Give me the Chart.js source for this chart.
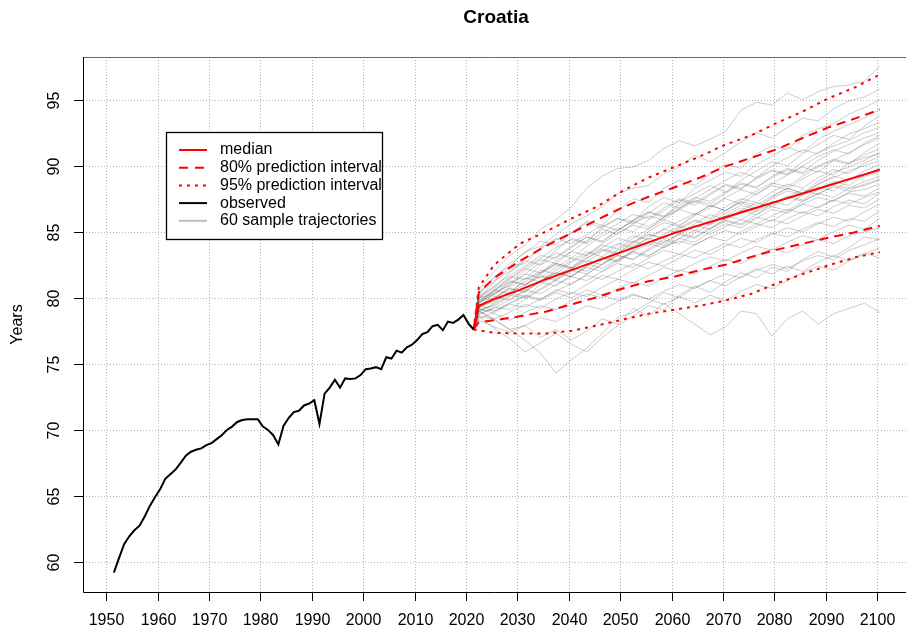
<!DOCTYPE html>
<html>
<head>
<meta charset="utf-8">
<script src="https://cdn.jsdelivr.net/npm/chart.js@4.4.1/dist/chart.umd.min.js"></script>
<style>
  html, body { margin: 0; padding: 0; background: #fff; }
  canvas { display: block; }
</style>
</head>
<body>
<canvas id="chart" width="906" height="628"></canvas>
<script>
/* ── Data ── */
const xTicks = [1950, 1960, 1970, 1980, 1990, 2000, 2010, 2020, 2030, 2040, 2050, 2060, 2070, 2080, 2090, 2100];
const yTicks = [60, 65, 70, 75, 80, 85, 90, 95];

// observed life expectancy, 1951.5 .. 2021.5
const observed = [
  59.2, 60.3, 61.35, 61.95, 62.4, 62.75, 63.45, 64.25, 64.9, 65.5,
  66.3, 66.65, 67.0, 67.5, 68.05, 68.35, 68.5, 68.6, 68.85, 69.0,
  69.3, 69.6, 70.0, 70.25, 70.6, 70.75, 70.8, 70.8, 70.8, 70.25,
  70.0, 69.6, 68.9, 70.3, 70.9, 71.35, 71.45, 71.85, 72.0, 72.25,
  70.45, 72.75, 73.2, 73.8, 73.2, 73.9, 73.85, 73.9, 74.15, 74.6,
  74.65, 74.75, 74.6, 75.5, 75.4, 76.0, 75.85, 76.25, 76.45, 76.8,
  77.25, 77.4, 77.85, 77.95, 77.55, 78.2, 78.1, 78.35, 78.7, 78.05,
  77.6
];
const obsYears = observed.map((_, i) => 1951.5 + i);

const projYears = [2021.5, 2022.5, 2025.5, 2030.5, 2035.5, 2040.5, 2045.5, 2050.5, 2055.5,
                   2060.5, 2065.5, 2070.5, 2075.5, 2080.5, 2085.5, 2090.5, 2095.5, 2100.5];
const median  = [77.6, 79.4, 79.9, 80.6, 81.4, 82.1, 82.8, 83.5, 84.2, 84.9, 85.5, 86.1, 86.7, 87.3, 87.9, 88.5, 89.1, 89.7];
const upper80 = [77.6, 80.4, 81.5, 82.8, 83.9, 84.9, 85.9, 86.85, 87.65, 88.35, 89.1, 89.95, 90.6, 91.25, 92.1, 92.9, 93.55, 94.25];
const lower80 = [77.6, 78.15, 78.3, 78.6, 78.95, 79.5, 80.05, 80.7, 81.25, 81.6, 82.1, 82.5, 83.1, 83.65, 84.1, 84.55, 84.95, 85.45];
const upper95 = [77.6, 80.8, 82.5, 84.1, 85.0, 86.0, 86.9, 88.1, 89.1, 89.9, 90.7, 91.6, 92.3, 93.25, 94.1, 95.1, 95.9, 96.9];
const lower95 = [77.6, 77.55, 77.35, 77.3, 77.3, 77.5, 77.9, 78.35, 78.8, 79.1, 79.4, 79.8, 80.3, 81.1, 81.8, 82.45, 83.05, 83.45];

// sample trajectories (read from the grey cloud), 2022.5 .. 2100.5 every 3 years
const trajYears = [2022.5, 2025.5, 2028.5, 2031.5, 2034.5, 2037.5, 2040.5, 2043.5, 2046.5, 2049.5,
                   2052.5, 2055.5, 2058.5, 2061.5, 2064.5, 2067.5, 2070.5, 2073.5, 2076.5, 2079.5,
                   2082.5, 2085.5, 2088.5, 2091.5, 2094.5, 2097.5, 2100.5];
const trajectories = [
  [80.6, 82.0, 83.2, 84.0, 85.2, 85.9, 86.9, 88.3, 89.2, 89.8, 89.9, 90.4, 91.3, 91.9, 91.5, 92.0, 92.6, 94.2, 94.8, 94.6, 95.5, 95.0, 95.6, 96.0, 96.1, 96.4, 97.5],
  [79.0, 78.3, 77.6, 77.9, 77.0, 77.6, 76.8, 77.5, 78.4, 78.0, 79.2, 78.6, 79.6, 78.8, 78.0, 77.2, 77.8, 79.0, 78.8, 77.1, 78.4, 79.0, 78.0, 78.8, 79.2, 79.6, 78.9],
  [79.0, 78.4, 77.6, 76.8, 75.8, 74.3, 75.3, 76.2, 77.3, 78.5, 78.9, 79.6, 80.4, 80.0, 80.8, 81.3, 80.9, 81.6, 82.2, 81.8, 82.4, 82.0, 82.7, 83.2, 82.8, 83.4, 83.0],
  [78.6, 77.7, 76.9, 75.9, 76.6, 77.3, 76.5, 75.9, 77.0, 77.9, 78.6, 79.4, 79.1, 80.2, 80.9, 80.4, 81.2, 81.9, 81.5, 82.3, 82.0, 82.9, 83.5, 83.1, 83.8, 84.6, 84.4],
  [80.3, 81.6, 82.4, 83.5, 83.9, 84.8, 85.6, 86.2, 86.9, 87.9, 88.3, 88.5, 89.4, 89.9, 90.8, 90.3, 91.0, 91.8, 92.5, 92.1, 92.9, 93.6, 93.4, 94.3, 94.9, 95.2, 95.8],
  [79.9, 81.2, 82.3, 82.6, 83.8, 84.4, 84.9, 85.8, 85.5, 86.6, 87.5, 87.2, 88.3, 88.9, 88.5, 89.4, 90.1, 89.8, 90.9, 91.5, 91.2, 92.3, 92.8, 93.2, 93.9, 94.4, 95.0],
  [80.1, 80.8, 81.9, 82.8, 82.5, 83.6, 84.5, 84.2, 85.4, 86.0, 85.8, 86.9, 87.6, 87.2, 88.3, 88.9, 89.5, 89.2, 90.1, 90.7, 91.4, 91.0, 92.0, 92.6, 93.1, 93.6, 94.3],
  [79.6, 80.5, 81.6, 81.4, 82.5, 83.1, 83.9, 84.6, 84.2, 85.1, 85.9, 86.5, 86.1, 87.2, 87.9, 88.5, 88.0, 88.9, 89.6, 90.3, 90.0, 90.9, 91.6, 92.3, 92.0, 93.0, 93.8],
  [80.0, 80.3, 81.0, 82.1, 82.9, 82.6, 83.5, 84.3, 85.2, 84.8, 85.6, 86.4, 87.2, 86.8, 87.5, 88.2, 88.9, 89.5, 89.1, 90.0, 90.6, 91.2, 90.9, 91.7, 92.4, 92.8, 93.3],
  [79.2, 80.4, 80.9, 81.8, 82.7, 83.4, 83.0, 83.9, 84.7, 85.3, 85.0, 85.9, 86.6, 87.4, 87.0, 87.8, 88.5, 88.2, 89.1, 89.7, 89.4, 90.3, 91.0, 91.5, 91.9, 92.5, 92.9],
  [79.8, 80.2, 81.3, 81.0, 81.9, 82.8, 83.5, 83.2, 84.1, 84.9, 85.5, 85.2, 86.1, 86.8, 87.4, 87.1, 87.9, 88.6, 88.3, 89.2, 89.8, 89.5, 90.4, 91.1, 91.6, 92.1, 92.5],
  [80.4, 81.5, 82.6, 83.4, 84.3, 84.0, 84.9, 85.7, 85.3, 86.0, 85.6, 86.2, 85.9, 86.7, 87.3, 86.9, 87.6, 88.2, 87.8, 88.6, 89.3, 89.9, 89.5, 90.4, 91.0, 91.6, 92.1],
  [79.3, 79.7, 80.5, 81.2, 82.1, 81.8, 82.7, 83.3, 84.0, 83.7, 84.5, 85.2, 85.9, 85.5, 86.3, 87.0, 86.6, 87.4, 88.1, 88.7, 88.4, 89.2, 89.9, 90.4, 90.1, 91.0, 91.7],
  [79.5, 80.6, 80.3, 81.4, 81.9, 82.6, 82.3, 83.2, 83.8, 84.5, 84.2, 85.0, 85.7, 85.4, 86.2, 86.8, 87.5, 87.1, 87.9, 88.5, 88.2, 89.0, 89.6, 89.3, 90.2, 90.8, 91.3],
  [78.9, 79.6, 80.4, 80.1, 81.0, 81.7, 82.3, 82.0, 82.9, 83.6, 84.3, 83.9, 84.8, 85.4, 85.1, 85.9, 86.6, 87.2, 86.8, 87.6, 88.3, 87.9, 88.8, 89.5, 89.9, 90.4, 91.0],
  [79.7, 80.0, 80.8, 81.5, 81.2, 82.1, 82.8, 83.5, 83.1, 84.0, 84.7, 84.4, 85.2, 85.8, 86.4, 86.0, 86.9, 87.5, 87.2, 88.0, 88.6, 88.3, 89.1, 89.7, 89.4, 90.2, 90.7],
  [79.1, 79.4, 80.1, 80.9, 81.7, 81.4, 82.2, 82.8, 82.5, 83.4, 84.1, 84.8, 84.5, 85.3, 85.9, 85.6, 86.4, 87.0, 86.7, 87.5, 88.1, 87.8, 88.6, 89.1, 89.6, 90.0, 90.4],
  [80.2, 81.3, 82.0, 82.9, 83.7, 84.5, 84.1, 84.8, 85.5, 85.1, 85.8, 85.4, 86.1, 86.7, 86.3, 87.0, 86.6, 87.3, 87.0, 87.7, 88.3, 87.9, 88.6, 89.2, 88.9, 89.6, 90.1],
  [79.4, 79.9, 80.7, 80.4, 81.3, 81.9, 81.6, 82.4, 83.1, 82.8, 83.6, 84.3, 84.0, 84.8, 85.5, 85.2, 86.0, 86.6, 86.3, 87.1, 87.7, 87.4, 88.2, 88.8, 88.5, 89.3, 89.8],
  [78.7, 79.3, 79.1, 79.9, 80.6, 81.3, 81.0, 81.8, 82.5, 83.2, 82.9, 83.7, 84.4, 84.1, 84.9, 85.6, 86.2, 85.9, 86.6, 87.3, 87.0, 87.8, 88.4, 88.1, 88.9, 89.2, 89.5],
  [79.6, 80.3, 81.1, 81.8, 81.5, 82.3, 83.0, 82.7, 83.5, 84.1, 83.8, 84.6, 85.2, 84.9, 85.6, 86.3, 85.9, 86.6, 87.2, 86.9, 87.6, 88.2, 87.8, 88.5, 88.3, 88.8, 89.2],
  [79.0, 79.5, 80.2, 80.0, 80.7, 81.4, 82.1, 81.8, 82.6, 83.2, 82.9, 83.6, 84.2, 84.9, 84.6, 85.3, 85.9, 85.6, 86.3, 86.9, 86.6, 87.3, 87.9, 87.6, 88.3, 88.5, 88.9],
  [79.3, 80.1, 79.8, 80.5, 81.2, 80.9, 81.7, 82.3, 82.0, 82.8, 83.4, 83.1, 83.9, 84.5, 84.2, 85.0, 85.6, 85.3, 86.0, 86.7, 86.4, 87.1, 87.6, 87.3, 88.0, 88.2, 88.6],
  [79.8, 80.5, 81.4, 82.2, 81.9, 82.6, 82.3, 83.0, 83.6, 83.3, 83.9, 84.5, 84.2, 84.8, 84.5, 85.2, 85.8, 85.5, 86.1, 85.8, 86.5, 87.1, 86.8, 87.4, 87.9, 87.7, 88.3],
  [78.8, 79.2, 79.9, 80.6, 80.3, 81.0, 81.6, 81.3, 82.0, 82.6, 82.3, 83.0, 83.6, 83.3, 84.0, 84.6, 84.3, 85.0, 85.6, 85.3, 86.0, 86.5, 86.2, 86.9, 87.4, 87.1, 87.9],
  [79.4, 79.8, 80.4, 81.0, 81.6, 81.3, 82.0, 82.6, 82.2, 82.9, 83.5, 83.2, 83.8, 84.3, 84.0, 84.6, 85.1, 84.8, 85.4, 85.9, 85.6, 86.2, 86.7, 86.4, 87.0, 86.8, 87.5],
  [78.4, 78.9, 79.5, 79.3, 79.9, 80.6, 80.3, 81.0, 81.7, 81.4, 82.1, 82.7, 82.4, 83.0, 83.6, 83.3, 83.9, 84.5, 84.2, 84.8, 85.3, 85.0, 85.6, 86.1, 85.8, 86.5, 87.1],
  [79.1, 79.0, 79.6, 80.2, 79.9, 80.5, 81.1, 81.7, 81.4, 82.0, 82.6, 82.2, 82.8, 83.3, 83.0, 83.6, 84.1, 83.8, 84.4, 84.9, 84.6, 85.2, 85.7, 85.4, 86.0, 85.8, 86.6],
  [78.6, 78.4, 78.9, 79.5, 79.2, 79.9, 80.4, 80.1, 80.8, 81.4, 81.1, 81.7, 82.3, 82.0, 82.6, 83.1, 82.8, 83.4, 83.9, 83.6, 84.2, 84.7, 84.4, 85.0, 85.5, 85.2, 86.0],
  [79.2, 78.8, 78.3, 78.9, 79.4, 79.1, 79.8, 80.3, 80.0, 80.7, 81.2, 80.9, 81.5, 82.1, 81.8, 82.4, 82.9, 82.6, 83.2, 83.7, 83.4, 84.0, 84.4, 84.1, 84.7, 85.0, 85.3],
  [78.3, 77.8, 77.4, 77.9, 78.5, 78.2, 78.8, 79.4, 79.1, 79.7, 80.2, 79.9, 80.5, 81.0, 80.7, 81.3, 81.8, 81.5, 82.1, 82.5, 82.2, 82.8, 83.2, 82.9, 83.6, 84.0, 84.5],
  [79.5, 79.0, 79.6, 80.1, 79.8, 80.4, 80.0, 80.6, 80.2, 79.8, 80.3, 79.9, 79.5, 80.1, 79.6, 80.2, 79.8, 80.5, 81.0, 80.7, 81.3, 81.9, 82.4, 82.1, 82.8, 83.3, 83.8],
  [80.0, 80.9, 81.7, 82.4, 83.2, 83.0, 83.8, 84.6, 84.3, 85.1, 85.8, 86.5, 86.2, 87.0, 87.6, 87.3, 88.0, 88.7, 88.4, 89.1, 89.7, 89.4, 90.0, 90.5, 90.2, 90.6, 90.9],
  [79.7, 80.6, 81.2, 81.0, 81.8, 82.5, 82.2, 83.0, 83.7, 83.4, 84.2, 84.8, 84.5, 85.2, 85.8, 85.5, 86.2, 86.8, 86.5, 87.1, 87.6, 87.3, 87.9, 88.4, 88.1, 88.6, 89.0],
  [79.9, 80.7, 81.5, 82.3, 83.0, 83.8, 84.4, 84.1, 84.9, 85.6, 86.3, 86.0, 86.8, 87.5, 87.2, 87.9, 88.6, 88.3, 89.0, 89.6, 89.3, 90.0, 90.7, 91.2, 90.9, 91.7, 92.3],
  [79.2, 80.0, 80.7, 80.5, 81.3, 81.9, 81.6, 82.4, 83.0, 82.7, 83.5, 84.1, 83.8, 84.5, 85.1, 84.8, 85.4, 85.9, 85.6, 86.2, 86.7, 86.4, 86.9, 87.4, 87.1, 87.6, 88.0]
];

const legendItems = [
  { label: "median", color: "#ff0000", dash: [], width: 2 },
  { label: "80% prediction interval", color: "#ff0000", dash: [9, 7], width: 2 },
  { label: "95% prediction interval", color: "#ff0000", dash: [3, 5], width: 2 },
  { label: "observed", color: "#000000", dash: [], width: 2 },
  { label: "60 sample trajectories", color: "#bebebe", dash: [], width: 2 }
];

const FONT = '"Liberation Sans", Arial, Helvetica, sans-serif';

/* ── Helpers ── */
const pts = (xs, ys) => ys.map((v, i) => ({ x: xs[i], y: v }));
const lastObs = observed[observed.length - 1];
const lastYear = obsYears[obsYears.length - 1];

function redLine(values, dash) {
  return {
    data: pts(projYears, values),
    borderColor: "#ff0000",
    borderWidth: 2,
    borderDash: dash,
    order: 1
  };
}

const datasets = [];
trajectories.forEach(t => {
  datasets.push({
    data: [{ x: lastYear, y: lastObs }].concat(pts(trajYears, t)),
    borderColor: "rgba(80,80,80,0.29)",
    borderWidth: 1,
    order: 10
  });
});
datasets.push(redLine(lower95, [3, 5]));
datasets.push(redLine(upper95, [3, 5]));
datasets.push(redLine(lower80, [9, 6]));
datasets.push(redLine(upper80, [9, 6]));
datasets.push(redLine(median, []));
datasets.push({ data: pts(obsYears, observed), borderColor: "#000000", borderWidth: 2, order: 0 });

/* ── Frame, grid, labels, legend ── */
const frame = {
  id: "frame",
  beforeDatasetsDraw(chart) {
    const { ctx, chartArea: a, scales: { x, y } } = chart;
    ctx.save();
    ctx.strokeStyle = "#b4b4b4";
    ctx.lineWidth = 1;
    ctx.setLineDash([1, 2]);
    xTicks.forEach(v => {
      const px = Math.round(x.getPixelForValue(v)) + 0.5;
      ctx.beginPath(); ctx.moveTo(px, a.top); ctx.lineTo(px, a.bottom); ctx.stroke();
    });
    yTicks.forEach(v => {
      const py = Math.round(y.getPixelForValue(v)) + 0.5;
      ctx.beginPath(); ctx.moveTo(a.left, py); ctx.lineTo(a.right, py); ctx.stroke();
    });
    ctx.restore();
  },
  afterDraw(chart) {
    const { ctx, chartArea: a, scales: { x, y } } = chart;
    ctx.save();
    ctx.setLineDash([]);
    ctx.lineWidth = 1;

    // box
    ctx.strokeStyle = "#6a6a6a";
    ctx.beginPath(); ctx.moveTo(a.left, a.top + 0.5); ctx.lineTo(a.right, a.top + 0.5); ctx.stroke();
    ctx.strokeStyle = "#000";
    ctx.beginPath();
    ctx.moveTo(a.left + 0.5, a.top); ctx.lineTo(a.left + 0.5, a.bottom + 0.5); ctx.lineTo(a.right, a.bottom + 0.5);
    ctx.stroke();

    // ticks + labels
    ctx.fillStyle = "#000";
    ctx.font = "16px " + FONT;
    ctx.textAlign = "center";
    ctx.textBaseline = "middle";
    xTicks.forEach(v => {
      const px = Math.round(x.getPixelForValue(v)) + 0.5;
      ctx.beginPath(); ctx.moveTo(px, a.bottom); ctx.lineTo(px, a.bottom + 9); ctx.stroke();
      ctx.fillText(String(v), px, 621);
    });
    yTicks.forEach(v => {
      const py = Math.round(y.getPixelForValue(v)) + 0.5;
      ctx.beginPath(); ctx.moveTo(a.left - 9, py); ctx.lineTo(a.left, py); ctx.stroke();
      ctx.save();
      ctx.translate(55, py);
      ctx.rotate(-Math.PI / 2);
      ctx.fillText(String(v), 0, 0);
      ctx.restore();
    });

    // axis title
    ctx.save();
    ctx.translate(18, (a.top + a.bottom) / 2);
    ctx.rotate(-Math.PI / 2);
    ctx.fillText("Years", 0, 0);
    ctx.restore();

    // main title
    ctx.font = "bold 19px " + FONT;
    ctx.fillText("Croatia", 496, 18);

    // legend
    const bx = 166, by = 132, bw = 216, bh = 107;
    ctx.fillStyle = "#fff";
    ctx.fillRect(bx, by, bw, bh);
    ctx.strokeStyle = "#000";
    ctx.lineWidth = 1.3;
    ctx.strokeRect(bx + 0.5, by + 0.5, bw, bh);
    ctx.font = "16px " + FONT;
    ctx.textAlign = "left";
    legendItems.forEach((it, i) => {
      const ly = 150 + i * 17.7;
      ctx.strokeStyle = it.color;
      ctx.lineWidth = it.width;
      ctx.setLineDash(it.dash);
      ctx.beginPath(); ctx.moveTo(179, ly); ctx.lineTo(207, ly); ctx.stroke();
      ctx.fillStyle = "#000";
      ctx.fillText(it.label, 220, ly);
    });
    ctx.restore();
  }
};

new Chart(document.getElementById("chart"), {
  type: "line",
  data: { datasets },
  options: {
    responsive: false,
    animation: false,
    devicePixelRatio: 1,
    layout: { padding: { left: 83, top: 57, right: 0, bottom: 36 } },
    plugins: { legend: { display: false }, tooltip: { enabled: false }, title: { display: false } },
    elements: { point: { radius: 0 }, line: { tension: 0, fill: false } },
    scales: {
      x: { type: "linear", min: 1945.5, max: 2105.6, display: false },
      y: { type: "linear", min: 57.73, max: 98.23, display: false }
    }
  },
  plugins: [frame]
});
</script>
</body>
</html>
